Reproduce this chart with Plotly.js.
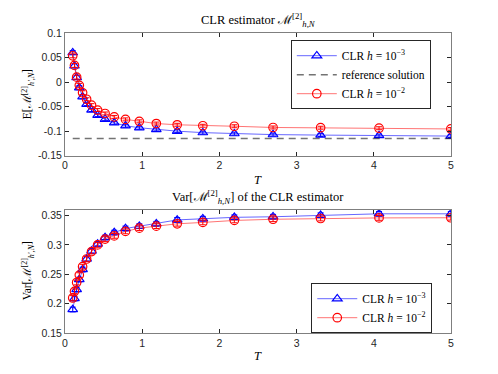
<!DOCTYPE html>
<html>
<head>
<meta charset="utf-8">
<script src="https://cdn.plot.ly/plotly-3.0.1.min.js"></script>
<style>
  body { margin: 0; background: #fff; }
  #myPlot { width: 498px; height: 374px; }
</style>
</head>
<body>
<div id="myPlot"></div>
<script>
// time points T (20 points, 0.1 .. 5)
var tVals = [0.1, 0.1229, 0.1509, 0.1854, 0.2278, 0.2799, 0.3439, 0.4225, 0.5191, 0.6378,
             0.7836, 0.9627, 1.1828, 1.4532, 1.7854, 2.1935, 2.6949, 3.3110, 4.0679, 4.9979];

// mean of the estimator
var meanH3 = [0.060, 0.033, 0.0095, -0.0115, -0.030, -0.045, -0.057, -0.0674, -0.0756, -0.083,
              -0.089, -0.093, -0.0965, -0.100, -0.103, -0.105, -0.107, -0.108, -0.109, -0.110];
var meanH2 = [0.0535, 0.034, 0.0100, -0.0066, -0.0217, -0.035, -0.047, -0.057, -0.064, -0.071,
              -0.076, -0.080, -0.0845, -0.087, -0.089, -0.090, -0.0925, -0.093, -0.094, -0.0955];
var meanErrH3 = [0.004, 0.004, 0.004, 0.004, 0.004, 0.003, 0.003, 0.003, 0.003, 0.003,
                 0.003, 0.003, 0.003, 0.003, 0.003, 0.003, 0.003, 0.003, 0.003, 0.003];
var meanErrH2 = [0.004, 0.004, 0.004, 0.004, 0.004, 0.003, 0.003, 0.003, 0.003, 0.003,
                 0.003, 0.003, 0.003, 0.003, 0.003, 0.003, 0.003, 0.003, 0.003, 0.003];
var refX = [0.1, 5];
var refY = [-0.115, -0.115];

// variance of the estimator
var varH3 = [0.190, 0.2086, 0.224, 0.241, 0.258, 0.276, 0.2897, 0.3017, 0.3126, 0.321,
             0.328, 0.332, 0.336, 0.3426, 0.3446, 0.347, 0.348, 0.3506, 0.353, 0.353];
var varH2 = [0.2097, 0.221, 0.236, 0.2486, 0.263, 0.276, 0.2886, 0.300, 0.310, 0.3154,
             0.323, 0.3286, 0.332, 0.336, 0.3383, 0.3417, 0.3437, 0.345, 0.346, 0.3463];
var varErr = [0.004, 0.004, 0.004, 0.004, 0.004, 0.004, 0.004, 0.004, 0.004, 0.004,
              0.004, 0.004, 0.004, 0.004, 0.004, 0.004, 0.004, 0.004, 0.004, 0.004];

// tick labels (MATLAB style hyphen minus)
var xTicks = [0, 1, 2, 3, 4, 5];
var xTickText = ["0", "1", "2", "3", "4", "5"];
var yTicksTop = [0.1, 0.05, 0, -0.05, -0.1, -0.15];
var yTickTextTop = ["0.1", "0.05", "0", "-0.05", "-0.1", "-0.15"];
var yTicksBot = [0.15, 0.2, 0.25, 0.3, 0.35];
var yTickTextBot = ["0.15", "0.2", "0.25", "0.3", "0.35"];

var serif = "Liberation Serif, DejaVu Serif, serif";
var sans = "Liberation Sans, Arial, sans-serif";
var blue = "#0000ff", red = "#ff0000";
var lblH3 = "CLR <i>h</i> = 10<sup>−3</sup>";
var lblH2 = "CLR <i>h</i> = 10<sup>−2</sup>";

var data = [
  {x: tVals, y: meanH3, name: lblH3, mode: "lines+markers", xaxis: "x", yaxis: "y", legend: "legend",
   line: {color: "rgba(0,0,255,0.6)", width: 1},
   marker: {symbol: "triangle-up-open", size: 8.5, color: blue, line: {width: 1.2}},
   error_y: {type: "data", array: meanErrH3, color: blue, thickness: 1, width: 3}},
  {x: refX, y: refY, name: "reference solution", mode: "lines", xaxis: "x", yaxis: "y", legend: "legend",
   line: {color: "rgba(0,0,0,0.55)", width: 1.5, dash: "7px,5px"}},
  {x: tVals, y: meanH2, name: lblH2, mode: "lines+markers", xaxis: "x", yaxis: "y", legend: "legend",
   line: {color: "rgba(255,0,0,0.55)", width: 1},
   marker: {symbol: "circle-open", size: 8.5, color: red, line: {width: 1.2}},
   error_y: {type: "data", array: meanErrH2, color: red, thickness: 1, width: 3}},
  {x: tVals, y: varH3, name: lblH3, mode: "lines+markers", xaxis: "x2", yaxis: "y2", legend: "legend2",
   line: {color: "rgba(0,0,255,0.6)", width: 1},
   marker: {symbol: "triangle-up-open", size: 8.5, color: blue, line: {width: 1.2}},
   error_y: {type: "data", array: varErr, color: blue, thickness: 1, width: 3}},
  {x: tVals, y: varH2, name: lblH2, mode: "lines+markers", xaxis: "x2", yaxis: "y2", legend: "legend2",
   line: {color: "rgba(255,0,0,0.55)", width: 1},
   marker: {symbol: "circle-open", size: 8.5, color: red, line: {width: 1.2}},
   error_y: {type: "data", array: varErr, color: red, thickness: 1, width: 3}}
];

function xAxis(anchor) {
  return {
    anchor: anchor, range: [0, 5], tickvals: xTicks, ticktext: xTickText,
    ticks: "inside", ticklen: 4, tickcolor: "#262626", showline: true, mirror: "ticks",
    linecolor: "#7f7f7f", linewidth: 1, showgrid: false, zeroline: false,
    tickfont: {family: sans, size: 10.5, color: "#262626"}
  };
}
function yAxis(anchor, dom, rng, tv, tt) {
  return {
    anchor: anchor, domain: dom, range: rng, tickvals: tv, ticktext: tt,
    ticks: "inside", ticklen: 4, tickcolor: "#262626", showline: true, mirror: "ticks",
    linecolor: "#7f7f7f", linewidth: 1, showgrid: false, zeroline: false,
    tickfont: {family: sans, size: 10.5, color: "#262626"}
  };
}

// helper for text placed in paper coords with pixel shifts
function label(txt, x, y, dx, dy, size, angle) {
  return {text: txt, xref: "paper", yref: "paper", x: x, y: y, xshift: dx, yshift: dy,
          xanchor: "center", yanchor: "middle", showarrow: false, textangle: angle || 0,
          font: {family: serif, size: size, color: "#000"}};
}

var legendStyle = {xanchor: "left", yanchor: "top", bgcolor: "#fff", bordercolor: "#262626",
                   borderwidth: 1, font: {family: serif, size: 11.5, color: "#000"},
                   tracegroupgap: 0, itemwidth: 40};

var layout = {
  width: 498, height: 374,
  margin: {l: 64.5, r: 47, t: 33.3, b: 41.3},
  paper_bgcolor: "#fff", plot_bgcolor: "#fff",
  showlegend: true,
  xaxis: xAxis("y"),
  yaxis: yAxis("x", [0.591, 1], [-0.15, 0.1], yTicksTop, yTickTextTop),
  xaxis2: xAxis("y2"),
  yaxis2: yAxis("x2", [0, 0.411], [0.15, 0.36], yTicksBot, yTickTextBot),
  legend: Object.assign({x: 0.585, y: 0.976}, legendStyle),
  legend2: Object.assign({x: 0.638, y: 0.166}, legendStyle),
  annotations: [
    label("CLR estimator ℳ<sup>[2]</sup><sub><i>h,N</i></sub>", 0.5, 1.0, 0, 13, 12.5),
    label("Var[ℳ<sup>[2]</sup><sub><i>h,N</i></sub>] of the CLR estimator", 0.5, 0.411, 0, 13, 12.5),
    label("<i>T</i>", 0.5, 0.591, 0, -24, 12.5),
    label("<i>T</i>", 0.5, 0, 0, -23, 12.5),
    label("E[ℳ<sup>[2]</sup><sub><i>h′,N</i></sub>]", 0, 0.7955, -37, 0, 11.5, -90),
    label("Var[ℳ<sup>[2]</sup><sub><i>h′,N</i></sub>]", 0, 0.2055, -37, 0, 11.5, -90)
  ]
};

Plotly.newPlot("myPlot", data, layout, {displayModeBar: false, staticPlot: true});
</script>
</body>
</html>
